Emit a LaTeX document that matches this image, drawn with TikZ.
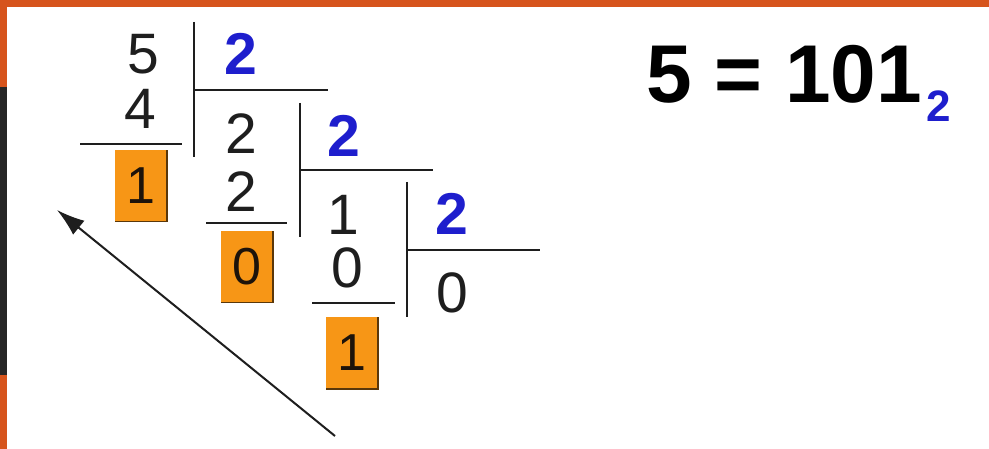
\documentclass[tikz,border=0pt]{standalone}
\usepackage{fontspec}
\setmainfont{Liberation Sans}
\usetikzlibrary{arrows.meta}
\definecolor{framebar}{RGB}{214,84,28}
\definecolor{darkbar}{RGB}{38,38,38}
\definecolor{baseblue}{RGB}{30,30,205}
\definecolor{remorange}{RGB}{247,150,22}
\definecolor{remedge}{RGB}{90,55,10}
\definecolor{inkgray}{RGB}{30,30,30}
\begin{document}
\begin{tikzpicture}[x=1pt,y=-1pt,
  digit/.style={font=\fontsize{57}{57}\selectfont, inner sep=0pt, text=inkgray},
  basedigit/.style={font=\fontsize{59}{59}\selectfont\bfseries, inner sep=0pt, text=baseblue},
  rembox/.style={fill=remorange, inner sep=0pt, minimum width=52pt, minimum height=71pt,
                 font=\fontsize{52}{52}\selectfont, text=black!85!brown},
  bar/.style={line width=2pt, draw=inkgray},
  shadowedge/.style={line width=1.6pt, draw=remedge},
  arrowline/.style={line width=2pt, draw=inkgray, -{Latex[length=28pt,width=18pt]}}]
\useasboundingbox (0,0) rectangle (989,449);
\fill[white] (0,0) rectangle (989,449);
% frame strips
\fill[framebar] (0,0) rectangle (989,7);
\fill[framebar] (0,0) rectangle (7,87);
\fill[darkbar] (0,87) rectangle (7,375);
\fill[framebar] (0,375) rectangle (7,449);

% first division
\node[digit] (n5) at (143,54) {5};
\node[digit] (n4) at (140,109) {4};
\node[basedigit] (b1) at (241,54) {2};
\draw[bar] (194,22) -- (194,157);
\draw[bar] (194,90) -- (328,90);
\draw[bar] (80,144) -- (182,144);
\node[rembox] (r1) at (141,186) {1};
\draw[shadowedge] (r1.north east) -- (r1.south east) -- (r1.south west);

% second division
\node[digit] (q1) at (241,134) {2};
\node[digit] (p2) at (241,192) {2};
\node[basedigit] (b2) at (344,136) {2};
\draw[bar] (300,103) -- (300,237);
\draw[bar] (300,170) -- (433,170);
\draw[bar] (206,223) -- (287,223);
\node[rembox] (r2) at (247,267) {0};
\draw[shadowedge] (r2.north east) -- (r2.south east) -- (r2.south west);

% third division
\node[digit] (q2) at (343,215) {1};
\node[digit] (p3) at (347,268) {0};
\node[basedigit] (b3) at (452,214) {2};
\node[digit] (q3) at (452,293) {0};
\draw[bar] (407,182) -- (407,317);
\draw[bar] (407,250) -- (540,250);
\draw[bar] (312,303) -- (395,303);
\node[rembox] (r3) at (352,353) {1};
\draw[shadowedge] (r3.north east) -- (r3.south east) -- (r3.south west);

% reading arrow
\coordinate (arrowstart) at (335,436);
\coordinate (arrowend) at (57,210);
\draw[arrowline] (arrowstart) -- (arrowend);

% result
\node[font=\fontsize{82}{82}\selectfont\bfseries, inner sep=0pt, anchor=base west, text=black] (eq) at (646,103)
  {5 = 101\kern4pt\raisebox{-19pt}{\fontsize{44}{44}\selectfont\color{baseblue}2}};
\end{tikzpicture}
\end{document}
